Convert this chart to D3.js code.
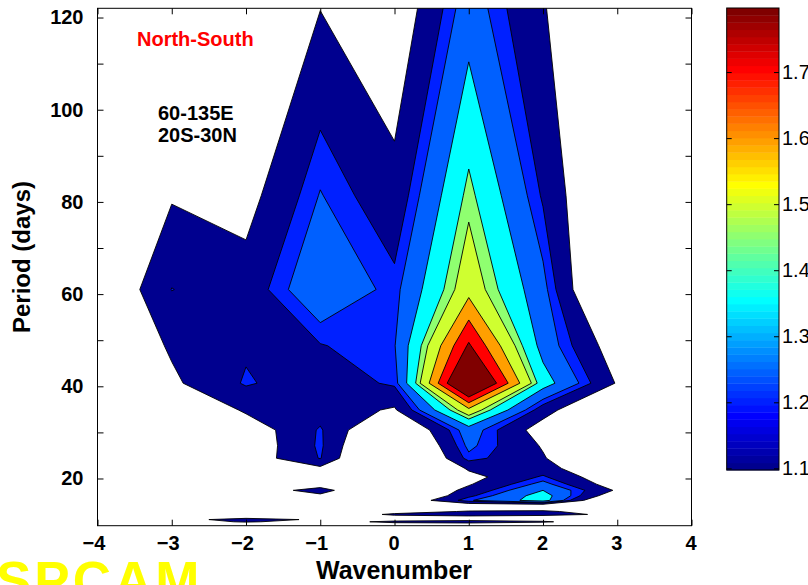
<!DOCTYPE html>
<html>
<head>
<meta charset="utf-8">
<script src="https://cdn.jsdelivr.net/npm/d3@7"></script>
<style>
  body { margin: 0; background: #fff; }
  svg { display: block; }
  text { font-family: "Liberation Sans", Arial, Helvetica, sans-serif; }
</style>
</head>
<body>
<div id="chart"></div>
<script>
// grid of the spectrum: columns = wavenumber, rows = period (days), top row first
const wavenumbers = [-4, -3, -2, -1, 0, 1, 2, 3, 4];
const periods = [122, 81.33, 61, 48.8, 40.67, 34.86, 30.5, 27.11, 24.4, 22.18, 20.33, 18.77,
                 17.43, 16.27, 15.25, 14.35, 13.56, 12.84, 12.2, 11.62, 11.09, 10.61, 10.17, 9.76];
// power ratio, one row per period
const power = [
  [0.95, 1.00, 1.03, 1.098, 1.010, 1.30, 1.105, 1.00, 0.95],
  [0.95, 1.09, 1.06, 1.255, 1.137, 1.475, 1.19, 0.90, 0.90],
  [0.965, 1.202, 1.145, 1.329, 1.224, 1.564, 1.276, 0.84, 0.80],
  [0.965, 1.115, 1.187, 1.195, 1.245, 1.815, 1.31, 1.03, 0.90],
  [0.95, 1.08, 1.21, 1.143, 1.215, 2.04, 1.40, 1.09, 0.90],
  [0.90, 0.95, 1.117, 1.16, 1.086, 1.573, 1.15, 0.90, 0.90],
  [0.90, 0.95, 1.027, 1.21, 0.92, 1.30, 1.04, 0.90, 0.90],
  [0.90, 0.95, 1.015, 1.215, 0.84, 1.27, 1.09, 0.90, 0.90],
  [0.90, 0.95, 1.027, 1.205, 0.80, 1.23, 1.11, 0.90, 0.90],
  [0.90, 0.95, 0.95, 1.075, 0.80, 1.116, 1.15, 0.95, 0.90],
  [0.90, 0.95, 0.98, 1.00, 0.85, 1.061, 1.2125, 0.996, 0.90],
  [0.90, 0.95, 1.00, 1.05, 0.90, 1.09, 1.28, 1.03, 0.90],
  [0.90, 0.95, 1.03, 1.14, 0.93, 1.132, 1.35, 1.084, 0.90],
  [0.90, 0.95, 1.00, 1.08, 0.90, 1.18, 1.40, 1.00, 0.90],
  [0.90, 0.95, 0.98, 1.00, 0.965, 1.24, 1.40, 0.85, 0.90],
  [0.90, 0.95, 0.98, 1.00, 0.95, 1.05, 1.08, 0.95, 0.90],
  [0.90, 0.95, 1.00, 1.00, 1.00, 1.04, 1.04, 1.00, 0.90],
  [0.90, 0.95, 1.00, 1.00, 1.05, 1.11, 1.12, 1.03, 0.90],
  [0.90, 0.98, 1.00, 1.00, 1.12, 1.15, 1.13, 1.08, 0.90],
  [0.90, 1.00, 1.05, 1.00, 1.05, 1.06, 1.05, 1.00, 0.90],
  [0.90, 1.05, 1.15, 1.08, 1.02, 1.05, 1.03, 0.98, 0.90],
  [0.90, 1.00, 1.12, 1.02, 1.14, 1.16, 1.12, 0.98, 0.90],
  [0.90, 0.98, 1.00, 1.00, 1.05, 1.06, 1.02, 0.95, 0.90],
  [0.90, 0.95, 0.98, 0.98, 1.00, 1.00, 1.00, 0.95, 0.90]
];
const levels = [1.1, 1.2, 1.25, 1.35, 1.45, 1.5, 1.6, 1.7, 1.8];
const xTicks = [-4, -3, -2, -1, 0, 1, 2, 3, 4];
const yTicks = [20, 30, 40, 50, 60, 70, 80, 90, 100, 110, 120];
const yTickLabels = [20, 40, 60, 80, 100, 120];
const colorTicks = [1.1, 1.2, 1.3, 1.4, 1.5, 1.6, 1.7];
const colorRange = [1.0975, 1.797];

const width = 808, height = 585;
const plot = { left: 97.5, right: 691.5, top: 8.3, bottom: 525.7 };
const bar = { left: 726.7, right: 779, top: 8, bottom: 470 };

const svg = d3.select('#chart').append('svg')
    .attr('width', width)
    .attr('height', height);

const x = d3.scaleLinear().domain([-4, 4]).range([plot.left, plot.right]);
const y = d3.scaleLinear().domain([9.76, 122]).range([plot.bottom, plot.top]);

// matlab jet, 64 entries
function jet(f) {
    const c = v => Math.max(0, Math.min(1, v));
    return d3.rgb(255 * c(Math.min(4 * f - 1.5, -4 * f + 4.5)),
                  255 * c(Math.min(4 * f - 0.5, -4 * f + 3.5)),
                  255 * c(Math.min(4 * f + 0.5, -4 * f + 2.5)));
}
function levelColor(v) {
    let i = Math.floor((v - colorRange[0]) / (colorRange[1] - colorRange[0]) * 64) + 1;
    i = Math.max(1, Math.min(64, i));
    return jet(i / 64).toString();
}

// contours on the grid, then grid coords -> data coords -> pixels
const n = wavenumbers.length, m = periods.length;
const contours = d3.contours()
    .size([n, m])
    .smooth(true)
    .thresholds(levels)(power.flat());

const colToWave = d3.scaleLinear().domain([0, n - 1]).range([wavenumbers[0], wavenumbers[n - 1]]);
const rowToPeriod = d3.scaleLinear().domain(d3.range(m)).range(periods);
const gridPath = d3.geoPath(d3.geoTransform({
    point: function(px, py) {
        this.stream.point(x(colToWave(px - 0.5)), y(rowToPeriod(py - 0.5)));
    }
}));

svg.append('clipPath').attr('id', 'plot-clip')
    .append('rect')
    .attr('x', plot.left).attr('y', plot.top)
    .attr('width', plot.right - plot.left)
    .attr('height', plot.bottom - plot.top);

svg.append('g')
    .attr('clip-path', 'url(#plot-clip)')
    .selectAll('path')
    .data(contours)
    .enter()
    .append('path')
    .attr('d', gridPath)
    .style('fill', d => levelColor(d.value))
    .style('stroke', '#000')
    .style('stroke-width', 0.9)
    .style('stroke-linejoin', 'miter');

// axes, matlab style: ticks inward on all four sides
function styleAxis(g, bold) {
    g.attr('font-family', '"Liberation Sans", Arial, sans-serif')
        .attr('font-size', 20)
        .attr('font-weight', bold ? 'bold' : 'normal');
    g.select('.domain').remove();
    g.selectAll('.tick line').attr('stroke', '#000');
    g.selectAll('.tick text').attr('fill', '#000');
}

svg.append('g')
    .attr('transform', `translate(0,${plot.bottom})`)
    .call(d3.axisBottom(x).tickValues(xTicks).tickSize(-6).tickPadding(10).tickFormat(d3.format('d')))
    .call(g => styleAxis(g, true))
    .call(g => g.selectAll('.tick text').attr('dx', d => d < 0 ? -4 : -1));
svg.append('g')
    .attr('transform', `translate(0,${plot.top})`)
    .call(d3.axisTop(x).tickValues(xTicks).tickSize(-6).tickFormat(''))
    .call(g => styleAxis(g, true));
svg.append('g')
    .attr('transform', `translate(${plot.left},0)`)
    .call(d3.axisLeft(y).tickValues(yTicks).tickSize(-6).tickPadding(14)
        .tickFormat(d => yTickLabels.includes(d) ? d : ''))
    .call(g => styleAxis(g, true));
svg.append('g')
    .attr('transform', `translate(${plot.right},0)`)
    .call(d3.axisRight(y).tickValues(yTicks).tickSize(-6).tickFormat(''))
    .call(g => styleAxis(g, true));

svg.append('rect')
    .attr('x', plot.left).attr('y', plot.top)
    .attr('width', plot.right - plot.left)
    .attr('height', plot.bottom - plot.top)
    .style('fill', 'none')
    .style('stroke', '#000')
    .style('stroke-width', 1);

svg.append('text')
    .attr('x', (plot.left + plot.right) / 2 - 0.5)
    .attr('y', 579)
    .attr('text-anchor', 'middle')
    .attr('font-size', 25)
    .attr('font-weight', 'bold')
    .text('Wavenumber');
svg.append('text')
    .attr('transform', `translate(30,${257}) rotate(-90)`)
    .attr('text-anchor', 'middle')
    .attr('font-size', 24)
    .attr('font-weight', 'bold')
    .text('Period (days)');

// annotations
svg.append('text')
    .attr('x', 137).attr('y', 46)
    .attr('font-size', 20).attr('font-weight', 'bold')
    .style('fill', '#ff0000')
    .text('North-South');
svg.append('text')
    .attr('x', 158).attr('y', 120)
    .attr('font-size', 20).attr('font-weight', 'bold')
    .text('60-135E');
svg.append('text')
    .attr('x', 158).attr('y', 142)
    .attr('font-size', 20).attr('font-weight', 'bold')
    .text('20S-30N');
svg.append('text')
    .attr('x', -4).attr('y', 599)
    .attr('font-size', 53).attr('font-weight', 'bold')
    .attr('letter-spacing', 3)
    .style('fill', '#ffff00')
    .text('SPCAM');

// colorbar
const cy = d3.scaleLinear().domain(colorRange).range([bar.bottom, bar.top]);
const steps = d3.range(1, 65);
const stepSize = (colorRange[1] - colorRange[0]) / 64;
svg.append('g')
    .selectAll('rect')
    .data(steps)
    .enter()
    .append('rect')
    .attr('x', bar.left)
    .attr('width', bar.right - bar.left)
    .attr('y', i => cy(colorRange[0] + i * stepSize))
    .attr('height', i => cy(colorRange[0] + (i - 1) * stepSize) - cy(colorRange[0] + i * stepSize) + 0.4)
    .style('fill', i => jet(i / 64).toString());
svg.append('rect')
    .attr('x', bar.left).attr('y', bar.top)
    .attr('width', bar.right - bar.left)
    .attr('height', bar.bottom - bar.top)
    .style('fill', 'none')
    .style('stroke', '#000')
    .style('stroke-width', 1);
svg.append('g')
    .attr('transform', `translate(${bar.right},0)`)
    .call(d3.axisRight(cy).tickValues(colorTicks).tickSize(-5).tickPadding(3).tickFormat(d3.format('.1f')))
    .call(g => styleAxis(g, false));
svg.append('g')
    .attr('transform', `translate(${bar.left},0)`)
    .call(d3.axisLeft(cy).tickValues(colorTicks).tickSize(-5).tickFormat(''))
    .call(g => styleAxis(g, false));
</script>
</body>
</html>
